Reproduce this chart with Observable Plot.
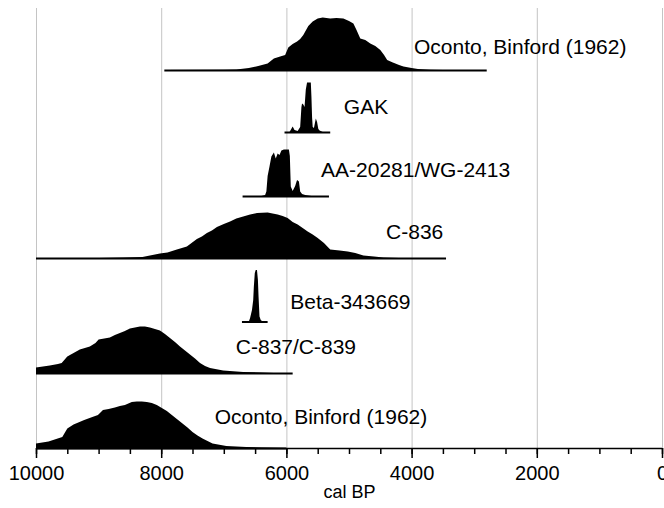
<!DOCTYPE html>
<html>
<head>
<meta charset="utf-8">
<script src="https://cdn.jsdelivr.net/npm/d3@7"></script>
<script src="https://cdn.jsdelivr.net/npm/@observablehq/plot@0.6"></script>
<style>
  html, body { margin: 0; padding: 0; background: #fff; }
  #chart svg { display: block; }
</style>
</head>
<body>
<div id="chart"></div>
<script>
// ---- Data (cal BP, relative probability) ----
const names = ["Oconto, Binford (1962)", "GAK", "AA-20281/WG-2413", "C-836", "Beta-343669", "C-837/C-839", "Oconto, Binford (1962)"];
const spanStart = [7950, 6030, 6700, 10000, 6710, 10000, 10000];
const spanEnd   = [2800, 5300, 5320, 3450, 6300, 5900, 6000];

const yearsOconto1 = [7950, 7000, 6800, 6600, 6450, 6300, 6200, 6100, 6020, 5970, 5900, 5830, 5780, 5730, 5650, 5580, 5500, 5420, 5300, 5200, 5090, 5000, 4930, 4880, 4820, 4740, 4660, 4580, 4500, 4440, 4390, 4300, 4200, 4130, 4000, 3900, 3700, 3500, 2800];
const probOconto1  = [0, 0.005, 0.01, 0.04, 0.08, 0.13, 0.23, 0.27, 0.3, 0.45, 0.52, 0.57, 0.62, 0.7, 0.88, 0.97, 1.03, 1.05, 1.03, 1.04, 1.03, 0.98, 0.93, 0.8, 0.63, 0.6, 0.53, 0.48, 0.4, 0.3, 0.2, 0.15, 0.1, 0.07, 0.04, 0.02, 0.005, 0, 0];

const yearsGAK = [6030, 5950, 5900, 5870, 5820, 5780, 5760, 5750, 5730, 5710, 5690, 5670, 5640, 5610, 5600, 5590, 5580, 5560, 5530, 5510, 5490, 5470, 5420, 5300];
const probGAK  = [0, 0, 0.11, 0.04, 0.02, 0.1, 0.5, 0.57, 0.55, 0.5, 0.85, 0.99, 0.99, 0.99, 0.7, 0.3, 0.1, 0.08, 0.27, 0.2, 0.06, 0.03, 0, 0];

const yearsAA = [6700, 6400, 6340, 6320, 6300, 6270, 6240, 6200, 6170, 6140, 6110, 6080, 6040, 6000, 5960, 5945, 5930, 5900, 5860, 5830, 5800, 5780, 5750, 5700, 5600, 5320];
const probAA  = [0, 0, 0.02, 0.09, 0.4, 0.59, 0.79, 0.87, 0.75, 0.85, 0.82, 0.91, 0.93, 0.93, 0.93, 0.8, 0.19, 0.1, 0.2, 0.32, 0.29, 0.09, 0.04, 0.02, 0, 0];

const yearsC836 = [10000, 9000, 8600, 8300, 8020, 7900, 7750, 7590, 7430, 7350, 7270, 7190, 7110, 7000, 6900, 6800, 6690, 6580, 6470, 6300, 6220, 6140, 6060, 5980, 5900, 5820, 5740, 5660, 5580, 5500, 5400, 5300, 5150, 5020, 4900, 4770, 4600, 4450, 4200, 3450];
const probC836  = [0, 0, 0.01, 0.02, 0.09, 0.11, 0.17, 0.23, 0.38, 0.43, 0.5, 0.55, 0.62, 0.68, 0.73, 0.79, 0.83, 0.87, 0.9, 0.91, 0.89, 0.87, 0.84, 0.8, 0.72, 0.67, 0.6, 0.53, 0.47, 0.4, 0.3, 0.17, 0.15, 0.13, 0.1, 0.05, 0.03, 0.01, 0, 0];

const yearsBeta = [6710, 6600, 6580, 6550, 6530, 6520, 6505, 6490, 6470, 6455, 6445, 6430, 6410, 6380, 6300];
const probBeta  = [0, 0, 0.07, 0.23, 0.43, 0.7, 0.97, 1.03, 1.03, 0.83, 0.5, 0.1, 0.03, 0, 0];

const yearsC837 = [10000, 9780, 9650, 9590, 9500, 9400, 9300, 9140, 9050, 9000, 8820, 8740, 8660, 8580, 8500, 8420, 8340, 8260, 8180, 8100, 8020, 7940, 7860, 7780, 7700, 7620, 7540, 7460, 7380, 7300, 7220, 7010, 6690, 6400, 6200, 5900];
const probC837  = [0.11, 0.15, 0.18, 0.2, 0.33, 0.4, 0.47, 0.53, 0.6, 0.67, 0.71, 0.76, 0.8, 0.84, 0.89, 0.91, 0.93, 0.93, 0.91, 0.88, 0.85, 0.78, 0.7, 0.62, 0.53, 0.45, 0.37, 0.29, 0.2, 0.14, 0.1, 0.05, 0.02, 0.01, 0, 0];

const yearsOconto2 = [10000, 9800, 9580, 9500, 9400, 9230, 9100, 9010, 8930, 8840, 8740, 8660, 8580, 8470, 8390, 8310, 8230, 8150, 8070, 7990, 7910, 7830, 7750, 7660, 7580, 7500, 7420, 7340, 7260, 7180, 6960, 6640, 6400, 6000];
const probOconto2  = [0.09, 0.13, 0.22, 0.39, 0.47, 0.56, 0.62, 0.66, 0.76, 0.78, 0.81, 0.84, 0.86, 0.92, 0.93, 0.93, 0.92, 0.9, 0.86, 0.8, 0.74, 0.66, 0.58, 0.49, 0.41, 0.32, 0.25, 0.19, 0.14, 0.09, 0.04, 0.02, 0.01, 0];

const curveYears = [yearsOconto1, yearsGAK, yearsAA, yearsC836, yearsBeta, yearsC837, yearsOconto2];
const curveProb  = [probOconto1, probGAK, probAA, probC836, probBeta, probC837, probOconto2];

const majorTicks = [10000, 8000, 6000, 4000, 2000, 0];
const minorTicks = d3.range(0, 10001, 500);

// ---- Layout (row stacking, label placement) ----
const rowBase    = [7.56, 6.32, 5.04, 3.80, 2.53, 1.50, 0];
const labelYear  = [3970, 5090, 5455, 4416, 5947, 6816, 7152];
const labelLift  = [0.47, 0.50, 0.52, 0.53, 0.40, 0.53, 0.63];

const flat = [];
curveYears.forEach((ys, r) => ys.forEach((yr, j) => flat.push({row: r, year: yr, p: curveProb[r][j]})));
const idx = d3.range(names.length);

const chart = Plot.plot({
  width: 664,
  height: 508,
  marginTop: 8,
  marginBottom: 60,
  marginLeft: 36,
  marginRight: 2,
  style: {fontFamily: "'Liberation Sans', Arial, Helvetica, sans-serif", color: "black", background: "white"},
  x: {domain: [10000, 0], label: null},
  y: {domain: [0, 8.8], axis: null},
  marks: [
    Plot.gridX(majorTicks, {stroke: "#c4c4c4", strokeOpacity: 1, strokeWidth: 1}),
    Plot.areaY(flat, {x: "year", y1: d => rowBase[d.row], y2: d => rowBase[d.row] + d.p, z: "row", fill: "black"}),
    Plot.ruleY(idx, {y: i => rowBase[i], x1: i => spanStart[i], x2: i => spanEnd[i], stroke: "black", strokeWidth: 2}),
    Plot.text(idx, {x: i => labelYear[i], y: i => rowBase[i] + labelLift[i], text: i => names[i], textAnchor: "start", fontSize: 21, fill: "black"}),
    Plot.ruleY([0], {stroke: "black", strokeWidth: 1.5}),
    Plot.axisX({ticks: minorTicks, tickSize: 6, tickFormat: () => "", strokeWidth: 1.5, label: null}),
    Plot.axisX({ticks: majorTicks, tickSize: 10, tickPadding: 7, tickFormat: d => String(d), fontSize: 20, strokeWidth: 1.5, fill: "black", label: null}),
    Plot.text(["cal BP"], {frameAnchor: "bottom", dy: 49, fontSize: 18, fill: "black"})
  ]
});
document.getElementById("chart").appendChild(chart);
</script>
</body>
</html>
